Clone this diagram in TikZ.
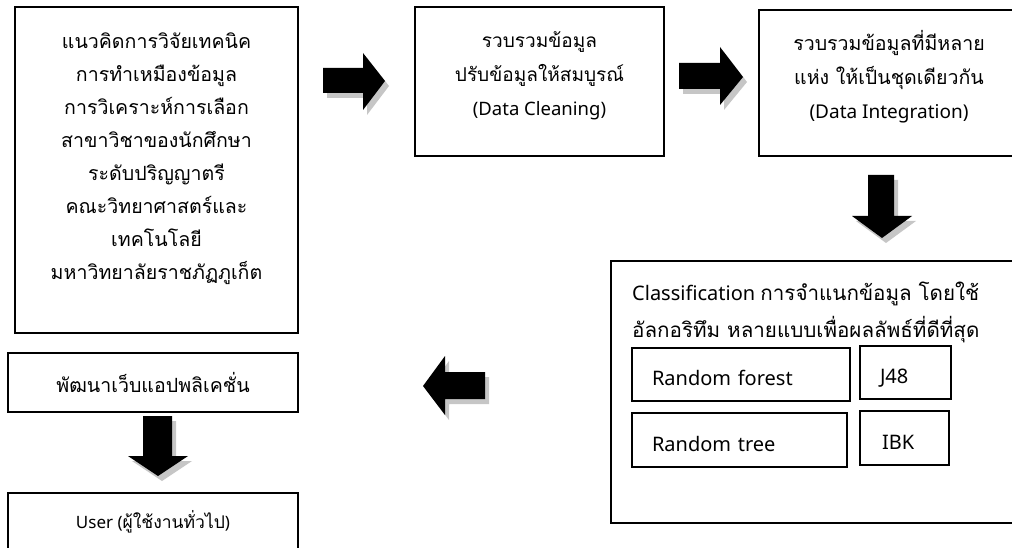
\documentclass[tikz,border=0pt]{standalone}
\usepackage{fontspec}
\setmainfont{Noto Sans}
\newfontfamily\thai[Script=Thai,Scale=1.03]{Loma}
\newcommand\blockarrow[1]{%
  \fill[arrshadow,shift={(4,5)}] #1 -- cycle;
  \fill[arrbody] #1 -- cycle;}
\begin{document}
\begin{tikzpicture}[x=1pt,y=-1pt,
  box/.style={draw=black, line width=1.4pt, rectangle, inner sep=0pt},
  txt/.style={font=\fontsize{19}{33}\selectfont, align=center, inner sep=0pt},
  ltxt/.style={font=\fontsize{20}{33}\selectfont, inner sep=0pt, anchor=base west},
  algbox/.style={box, font=\fontsize{20}{24}\selectfont, align=left, inner xsep=20pt, text height=22pt, text depth=0pt},
  arrbody/.style={fill=black},
  arrshadow/.style={fill=gray!45}]
\useasboundingbox (0,0) rectangle (1012,548);
\clip (0,0) rectangle (1012,548);

% boxes
\node[box, minimum width=283, minimum height=326] (b1) at (156.5,170) {};
\node[txt] (t1) at (156.5,159) {\thai แนวคิดการวิจัยเทคนิค\\ \thai การทำเหมืองข้อมูล\\ \thai การวิเคราะห์การเลือก\\ \thai สาขาวิชาของนักศึกษา\\ \thai ระดับปริญญาตรี\\ \thai คณะวิทยาศาสตร์และ\\ \thai เทคโนโลยี\\ \thai มหาวิทยาลัยราชภัฏภูเก็ต};

\node[box, minimum width=249, minimum height=149] (b2) at (539.5,81.5) {};
\node[txt, font=\fontsize{18.5}{34}\selectfont] (t2) at (539.5,76) {\thai รวบรวมข้อมูล\\ \thai ปรับข้อมูลให้สมบูรณ์\\ (Data Cleaning)};

\node[box, minimum width=260, minimum height=146] (b3) at (889,83) {};
\node[txt, font=\fontsize{19}{34}\selectfont] (t3) at (889,77) {\thai รวบรวมข้อมูลที่มีหลาย\\ \thai แห่ง ให้เป็นชุดเดียวกัน\\ (Data Integration)};

\node[box, minimum width=409, minimum height=262] (b4) at (815.5,392) {};
\node[ltxt] (c1) at (632,300) {Classification {\thai การจำแนกข้อมูล โดยใช้}};
\node[ltxt] (c2) at (632,337) {\thai อัลกอริทึม หลายแบบเพื่อผลลัพธ์ที่ดีที่สุด};

\node[algbox, text width=178, minimum height=53] (rf) at (741,374.5) {Random forest};
\node[algbox, text width=51, minimum height=53] (j48) at (905.5,372.5) {J48};
\node[algbox, text width=175, minimum height=54] (rt) at (739.5,440) {Random tree};
\node[algbox, inner xsep=22pt, text width=45, minimum height=54] (ibk) at (904.5,438) {IBK};

\node[box, txt, minimum width=290, minimum height=59] (b5) at (153,382.5) {\thai พัฒนาเว็บแอปพลิเคชั่น};
\node[box, txt, font=\fontsize{17}{33}\selectfont, minimum width=290, minimum height=58] (b6) at (153,522) {User ({\thai ผู้ใช้งานทั่วไป})};

% block arrows
\blockarrow{(323,68) -- (363,68) -- (363,53) -- (385,81) -- (363,110) -- (363,93) -- (323,93)}
\blockarrow{(679,63) -- (720,63) -- (720,47) -- (743,77) -- (720,105) -- (720,89) -- (679,89)}
\blockarrow{(868,175) -- (894,175) -- (894,216) -- (912,216) -- (882,238) -- (852,216) -- (868,216)}
\blockarrow{(485,372) -- (445,372) -- (445,356) -- (423,386) -- (445,415) -- (445,399) -- (485,399)}
\blockarrow{(143,416) -- (172,416) -- (172,456) -- (188,456) -- (158,476) -- (128,456) -- (143,456)}
\end{tikzpicture}
\end{document}
